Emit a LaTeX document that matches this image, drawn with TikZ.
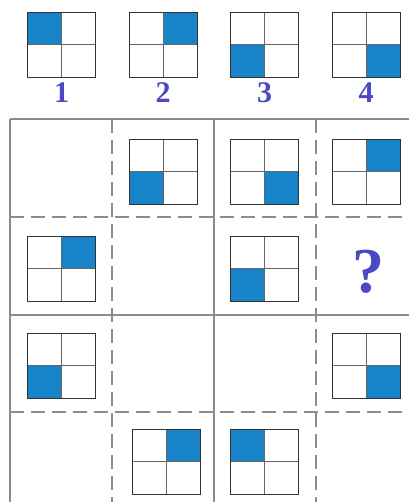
\documentclass[tikz,border=0pt]{standalone}
\usepackage{fontspec}
\setmainfont{Liberation Serif}
\definecolor{tileblue}{HTML}{1783C9}
\definecolor{labblue}{HTML}{4B49C2}
\definecolor{gridgray}{HTML}{8C8C8C}
\newcommand{\tilesq}[3]{\ifcase#3\or
\fill[tileblue] (#1,#2) rectangle ++(34,32.5);\or
\fill[tileblue] (#1+34,#2) rectangle ++(34,32.5);\or
\fill[tileblue] (#1,#2+32.5) rectangle ++(34,32.5);\or
\fill[tileblue] (#1+34,#2+32.5) rectangle ++(34,32.5);\fi
\draw[line width=0.9pt,draw=black!60] (#1+34,#2)--++(0,65) (#1,#2+32.5)--++(68,0);
\draw[line width=0.9pt,draw=black!80] (#1,#2) rectangle ++(68,65);}
\tikzset{gridline/.style={draw=gridgray,line width=1.2pt},
  dashline/.style={gridline,dash pattern=on 14pt off 7pt},
  numlab/.style={text=labblue,font=\fontsize{30}{30}\selectfont\bfseries,anchor=base,inner sep=0pt}}
\begin{document}
\begin{tikzpicture}[x=1pt,y=-1pt]
\useasboundingbox (0,0) rectangle (409,502);
% legend
\tilesq{27}{12}{1}\tilesq{129}{12}{2}\tilesq{230}{12}{3}\tilesq{332}{12}{4}
\node[numlab] (lab1) at (61.5,103) {1};
\node[numlab] (lab2) at (163,103) {2};
\node[numlab] (lab3) at (264.5,103) {3};
\node[numlab] (lab4) at (366,103) {4};
% grid
\draw[gridline] (10,119)--(409,119);
\draw[dashline] (10,217)--(409,217);
\draw[gridline] (10,315)--(409,315);
\draw[dashline] (10,412)--(409,412);
\draw[gridline] (10,119)--(10,502);
\draw[dashline] (112,119)--(112,502);
\draw[gridline] (214,119)--(214,502);
\draw[dashline] (316,119)--(316,502);
% cells
\tilesq{129}{139}{3}\tilesq{230}{139}{4}\tilesq{332}{139}{2}
\tilesq{27}{236}{2}\tilesq{230}{236}{3}
\node[numlab,font=\fontsize{64}{64}\selectfont\bfseries] (qmark) at (368,292) {?};
\tilesq{27}{333}{3}\tilesq{332}{333}{4}
\tilesq{132}{429}{2}\tilesq{230}{429}{1}
\end{tikzpicture}
\end{document}
